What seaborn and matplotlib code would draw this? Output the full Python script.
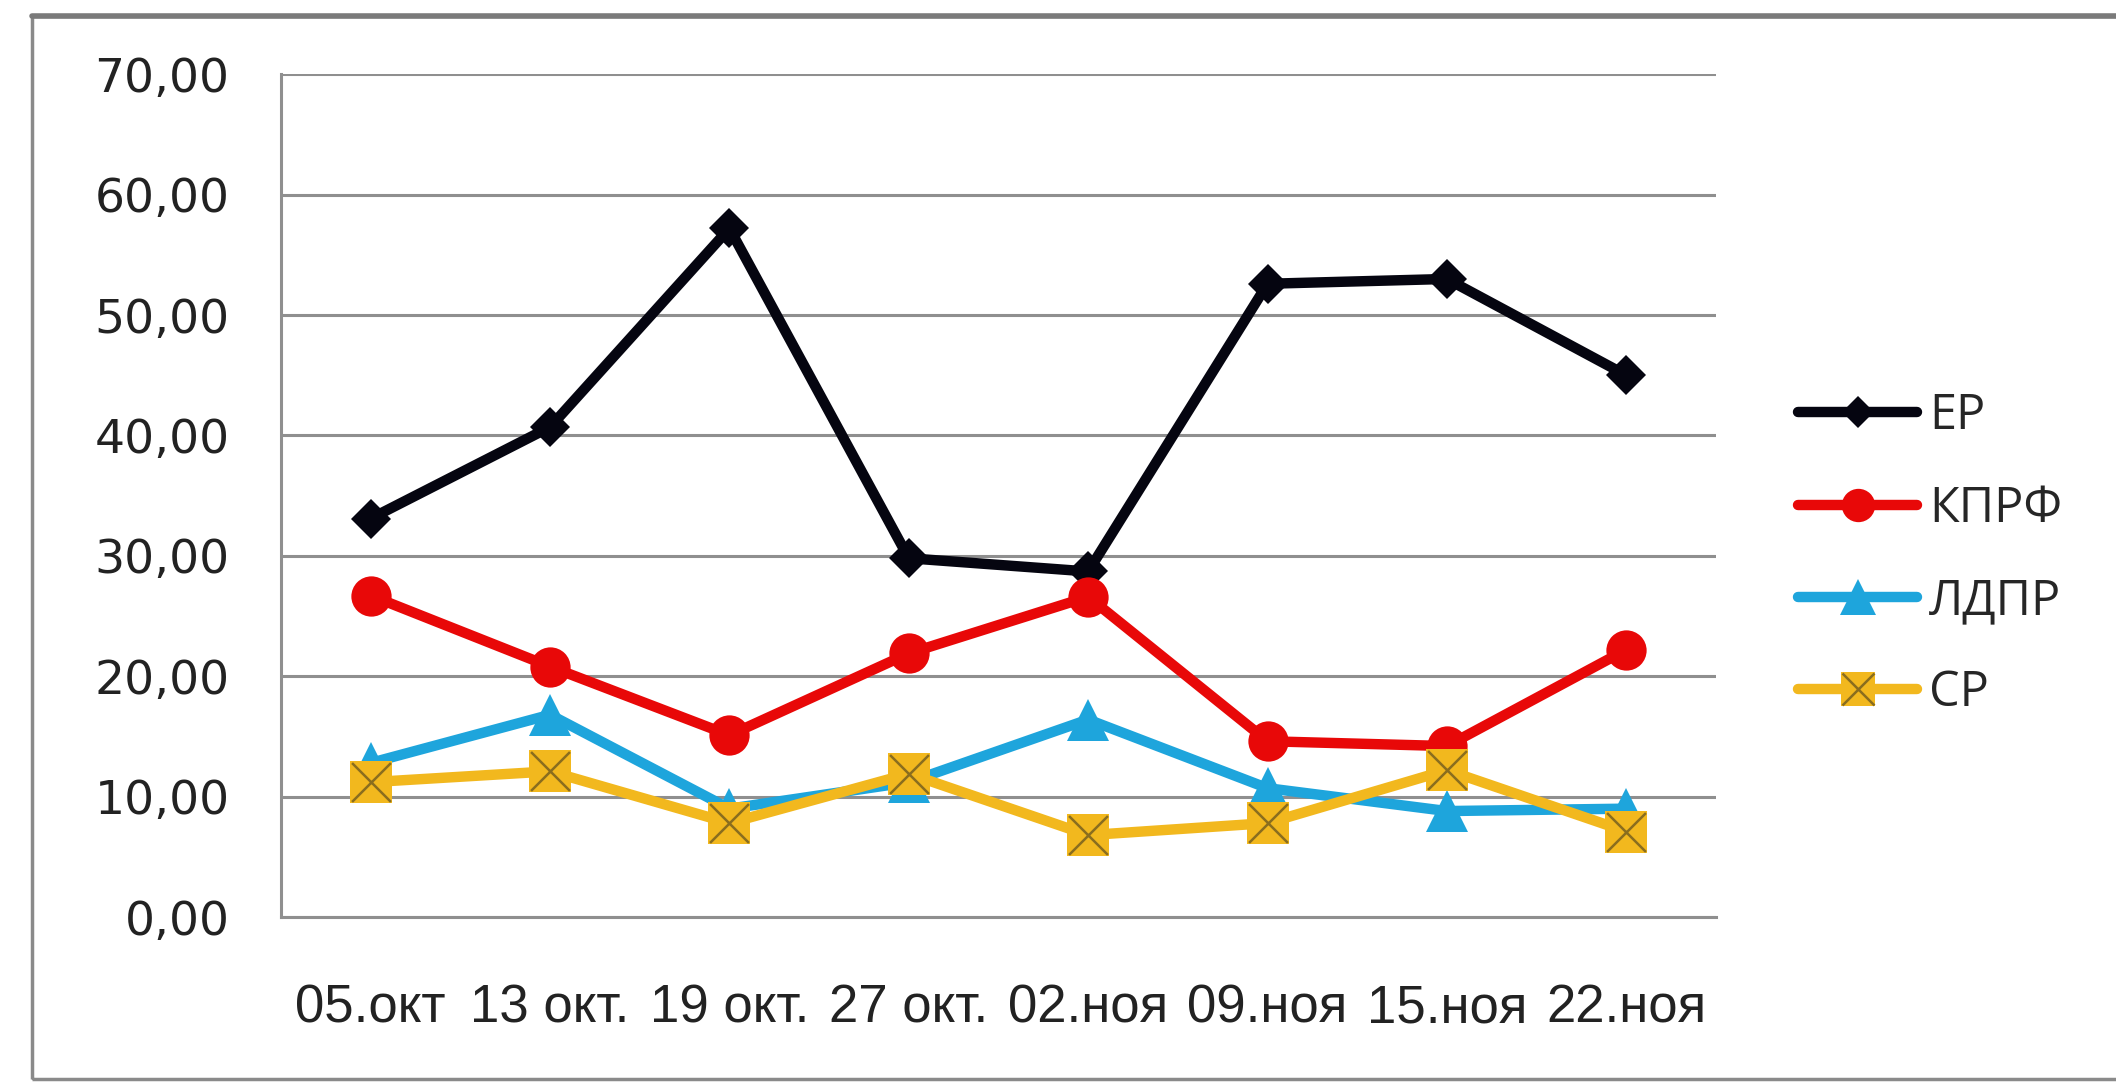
import numpy as np
import pandas as pd
import matplotlib
matplotlib.use("Agg")
import matplotlib.pyplot as plt
import seaborn as sns
from matplotlib.lines import Line2D
from matplotlib.patches import Rectangle

# --- data ---
dates = ["05.окт", "13 окт.", "19 окт.", "27 окт.", "02.ноя", "09.ноя", "15.ноя", "22.ноя"]
parties = ["ЕР", "КПРФ", "ЛДПР", "СР"]
er = [33.1, 40.7, 57.2, 29.8, 28.7, 52.6, 53.0, 45.0]
kprf = [26.7, 20.8, 15.1, 21.9, 26.6, 14.6, 14.2, 22.2]
ldpr = [12.8, 16.8, 9.0, 11.2, 16.4, 10.7, 8.8, 9.0]
sr = [11.2, 12.1, 7.8, 11.9, 6.8, 7.8, 12.2, 7.1]
y_ticks = [0, 10, 20, 30, 40, 50, 60, 70]

df = pd.DataFrame({
    "date": dates * 4,
    "party": np.repeat(parties, len(dates)),
    "value": er + kprf + ldpr + sr,
})

# --- style per series ---
colors = {"ЕР": "#050510", "КПРФ": "#e80808", "ЛДПР": "#1ea5dc", "СР": "#f2b81e"}
markers = {"ЕР": "D", "КПРФ": "o", "ЛДПР": "^", "СР": "s"}
msizes = {"ЕР": 20, "КПРФ": 29, "ЛДПР": 30, "СР": 30}
leg_msizes = {"ЕР": 16, "КПРФ": 24, "ЛДПР": 26, "СР": 25}
x_color = "#8a6d1e"
grid_color = "#8f8f8f"

sns.set_style("white")
plt.rcParams["font.family"] = ["DejaVu Sans"]

fig = plt.figure(figsize=(21.16, 10.82), dpi=100)
ax = fig.add_axes([281 / 2116, 1 - 917 / 1082, (1716 - 281) / 2116, (917 - 74.3) / 1082])

for p in parties:
    sub = df[df["party"] == p]
    sns.lineplot(data=sub, x="date", y="value", color=colors[p], marker=markers[p],
                 markersize=msizes[p], markeredgecolor=colors[p], markeredgewidth=0,
                 linewidth=7.5, sort=False, legend=False, ax=ax, zorder=3)
    if p == "СР":
        sns.scatterplot(data=sub, x="date", y="value", marker="x", s=28 ** 2,
                        color=x_color, linewidth=1.8, legend=False, ax=ax, zorder=4)

# axes look
ax.set_xlim(-0.5, len(dates) - 0.5)
ax.set_ylim(0, 70)
ax.set_yticks(y_ticks)
ax.set_yticklabels([f"{v:.2f}".replace(".", ",") for v in y_ticks], fontsize=34, color="#222222")
ax.set_xticks(range(len(dates)))
ax.set_xticklabels(dates, fontsize=38, family=["Liberation Sans", "DejaVu Sans"], color="#222222")
ax.set_xticks(np.arange(-0.5, len(dates), 1), minor=True)
ax.tick_params(axis="x", which="major", length=0, pad=48)
ax.tick_params(axis="x", which="minor", length=14, width=2, color=grid_color)
ax.tick_params(axis="y", which="major", length=11, width=2.2, color=grid_color, pad=26)
ax.set_xlabel("")
ax.set_ylabel("")
ax.grid(axis="y", color=grid_color, linewidth=2.2, zorder=0)
ax.grid(axis="x", visible=False)
ax.set_axisbelow(True)
for s in ["top", "right"]:
    ax.spines[s].set_visible(False)
for s in ["left", "bottom"]:
    ax.spines[s].set_color(grid_color)
    ax.spines[s].set_linewidth(2.2)

# legend
handles = []
for p in parties:
    h = Line2D([], [], color=colors[p], marker=markers[p], markersize=leg_msizes[p],
               markeredgewidth=0, linewidth=7.5, solid_capstyle="round")
    if p == "СР":
        h = (h, Line2D([], [], color=x_color, marker="x", markersize=leg_msizes[p] - 2,
                       markeredgewidth=1.8, linestyle="none"))
    handles.append(h)
fig.legend(handles, parties, loc="center left", bbox_to_anchor=(1798 / 2116, 1 - 555 / 1082),
           frameon=False, prop={"family": "Open Sans", "size": 35},
           handlelength=2.45, handletextpad=0.25, labelspacing=0.88,
           borderpad=0, borderaxespad=0)

# chart-area frame
fig.add_artist(Rectangle((32 / 2116, 1 - 1079 / 1082), (2200 - 32) / 2116, (1079 - 16) / 1082,
                         transform=fig.transFigure, fill=False, edgecolor="#8a8a8a",
                         linewidth=2.5, clip_on=False))
fig.add_artist(Line2D([32 / 2116, 1], [1 - 16 / 1082, 1 - 16 / 1082], transform=fig.transFigure,
                      color="#7a7a7a", linewidth=4))

fig.savefig("out.png", dpi=100)
